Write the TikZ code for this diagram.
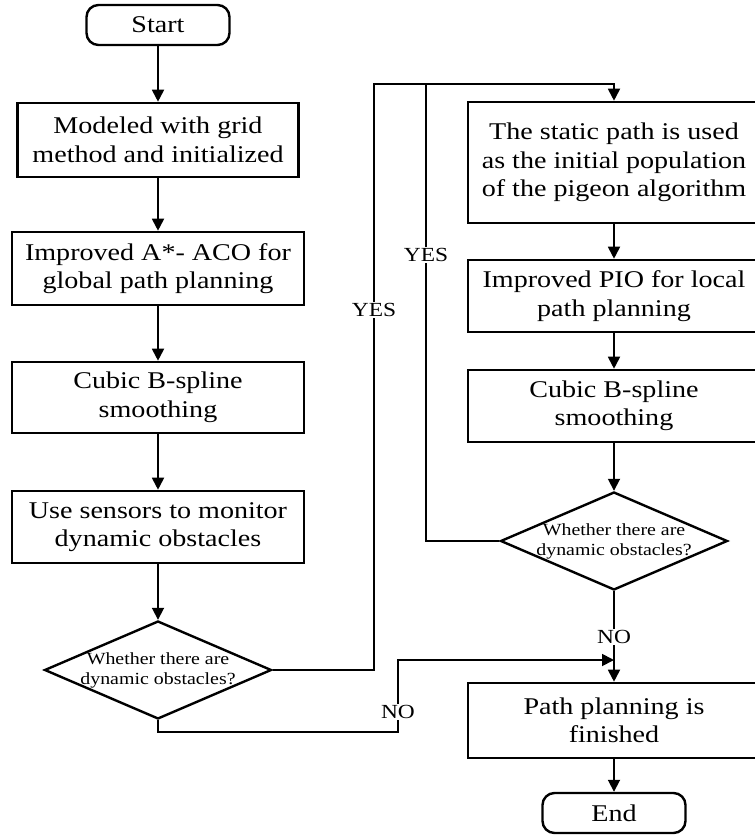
\documentclass[tikz,border=0pt]{standalone}
\usepackage{fontspec}
\setmainfont{Liberation Serif}[FakeStretch=1.17]
\usetikzlibrary{shapes.geometric,arrows.meta}
\begin{document}
\begin{tikzpicture}[x=1pt,y=-1pt,
  box/.style={draw, line width=2.6pt, inner sep=0pt, align=center,
    font=\fontsize{24}{28.5}\selectfont, minimum width=292pt, minimum height=72pt},
  term/.style={draw, line width=2.4pt, rounded corners=12pt, inner sep=0pt,
    font=\fontsize{24}{28.5}\selectfont, minimum width=143pt, minimum height=40pt},
  dec/.style={draw, diamond, line width=2.4pt, inner sep=0pt,
    minimum width=227pt, minimum height=98pt},
  dtext/.style={align=center, inner sep=0pt, font=\fontsize{17}{20}\selectfont},
  lab/.style={fill=white, inner sep=1.5pt, font=\fontsize{20}{22}\selectfont},
  conn/.style={line width=1.8pt},
  arr/.style={conn, -{Triangle[length=12pt,width=12pt]}}]
\useasboundingbox (0,0) rectangle (755,836);
\clip (0,0) rectangle (755,836);
% left column
\node[term] (start) at (158,25) {Start};
\node[box, minimum width=281pt, minimum height=74pt] (b1) at (158,140) {Modeled with grid\\method and initialized};
\node[box, minimum height=73pt] (b2) at (158,268.5) {Improved A*- ACO for\\global path planning};
\node[box, minimum height=71pt] (b3) at (158,397.5) {Cubic B-spline\\smoothing};
\node[box] (b4) at (158,527) {Use sensors to monitor\\dynamic obstacles};
\node[dec] (d1) at (158,670) {};
\node[dtext] (t1) at (d1) {Whether there are\\dynamic obstacles?};
% right column
\node[box, minimum height=121pt] (r1) at (614,162.5) {The static path is used\\as the initial population\\of the pigeon algorithm};
\node[box] (r2) at (614,296) {Improved PIO for local\\path planning};
\node[box] (r3) at (614,406) {Cubic B-spline\\smoothing};
\node[dec] (d2) at (614,541) {};
\node[dtext] (t2) at (d2) {Whether there are\\dynamic obstacles?};
\node[box, minimum height=75pt] (r4) at (614,720.5) {Path planning is\\finished};
\node[term] (end) at (614,813) {End};
% helper coordinates
\coordinate (c1) at (374,84);
\coordinate (c2) at (426,84);
\coordinate (c3) at (398,732);
\coordinate (c4) at (614,660);
% connectors
\draw[arr] (start) -- (b1);
\draw[arr] (b1) -- (b2);
\draw[arr] (b2) -- (b3);
\draw[arr] (b3) -- (b4);
\draw[arr] (b4) -- (d1);
\draw[arr] (r1) -- (r2);
\draw[arr] (r2) -- (r3);
\draw[arr] (r3) -- (d2);
\draw[arr] (r4) -- (end);
\draw[arr] (d1.east) -| (c1) -| (r1.north);
\draw[conn] (d2.west) -| (c2);
\draw[arr] (d1.south) |- (c3) |- (c4);
\draw[arr] (d2.south) -- (r4.north);
% labels
\node[lab] (y1) at (374,310) {YES};
\node[lab] (y2) at (426,255) {YES};
\node[lab] (n1) at (398,712) {NO};
\node[lab] (n2) at (614,637) {NO};
\end{tikzpicture}
\end{document}
